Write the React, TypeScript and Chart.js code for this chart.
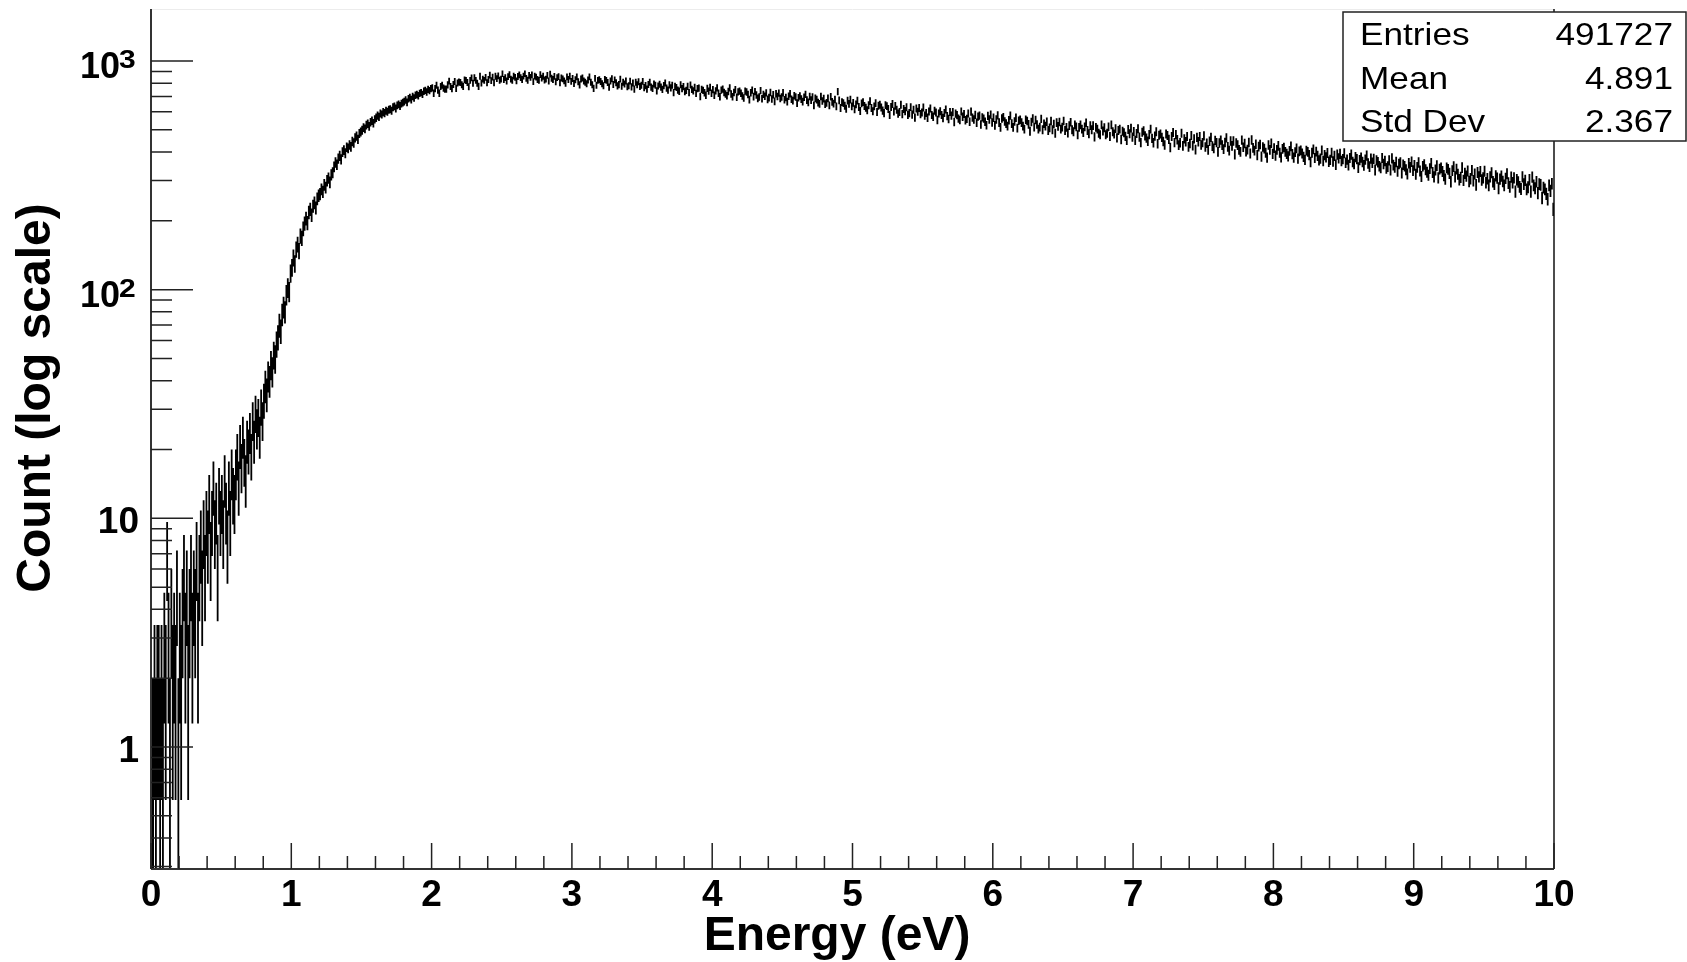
import React, { useEffect, useRef } from "react";
import { Chart, registerables } from "chart.js";

Chart.register(...registerables);

// ---- Histogram: Energy (eV), 1000 bins of 0.01 eV from 0 to 10 ----
const E_MIN = 0;
const BIN_W = 0.01;

const counts0to1 = [
  1, 1, 2, 1, 2, 2, 1, 2, 1, 3,
  2, 7, 3, 1, 4, 2, 3, 2, 5, 1,
  3, 2, 4, 6, 3, 5, 2, 4, 6, 3,
  5, 4, 7, 3, 6, 8, 5, 9, 6, 10,
  8, 12, 7, 10, 14, 9, 11, 6, 13, 10,
  12, 9, 15, 11, 8, 14, 10, 16, 13, 12,
  16, 19, 14, 21, 17, 23, 18, 15, 22, 20,
  24, 19, 27, 22, 29, 25, 28, 23, 31, 27,
  33, 38, 35, 42, 40, 47, 44, 52, 50, 58,
  62, 70, 66, 78, 84, 80, 95, 102, 98, 118,
];
const counts1to2 = [
  125, 138, 130, 150, 158, 148, 172, 168, 185, 195,
  205, 196, 218, 225, 212, 232, 240, 228, 250, 258,
  262, 275, 268, 288, 280, 300, 308, 295, 318, 325,
  345, 360, 352, 375, 385, 372, 400, 408, 395, 420,
  415, 430, 422, 445, 438, 462, 470, 455, 482, 490,
  498, 512, 505, 525, 532, 518, 540, 548, 535, 556,
  565, 578, 570, 590, 584, 598, 592, 606, 600, 612,
  615, 606, 628, 634, 620, 640, 646, 636, 652, 658,
  665, 676, 660, 684, 692, 678, 700, 690, 708, 714,
  705, 722, 728, 715, 738, 745, 732, 752, 742, 758,
];
const counts2to3 = [
  763, 723, 758, 784, 746, 723, 774, 784, 762, 753,
  754, 787, 817, 774, 757, 790, 814, 760, 802, 810,
  805, 788, 775, 827, 822, 806, 772, 823, 844, 799,
  845, 823, 800, 775, 858, 802, 834, 823, 848, 804,
  830, 867, 821, 851, 804, 858, 838, 862, 824, 834,
  880, 830, 846, 818, 855, 873, 834, 824, 859, 849,
  819, 856, 869, 847, 830, 859, 880, 840, 824, 865,
  848, 869, 813, 860, 851, 831, 823, 873, 842, 858,
  826, 834, 865, 818, 876, 841, 830, 857, 812, 847,
  854, 804, 843, 836, 819, 800, 852, 831, 859, 815,
];
const counts3to4 = [
  839, 797, 829, 853, 812, 787, 835, 843, 818, 807,
  795, 826, 853, 808, 788, 760, 840, 784, 823, 829,
  814, 795, 780, 830, 823, 805, 769, 818, 837, 790,
  827, 803, 779, 789, 834, 776, 807, 794, 818, 772,
  780, 817, 771, 801, 754, 808, 788, 812, 774, 784,
  815, 765, 781, 753, 790, 808, 769, 759, 794, 784,
  741, 778, 791, 769, 752, 781, 802, 762, 746, 787,
  763, 784, 728, 775, 766, 746, 738, 788, 757, 773,
  736, 744, 775, 728, 786, 751, 740, 767, 722, 757,
  762, 700, 751, 744, 727, 708, 760, 739, 767, 723,
];
const counts4to5 = [
  750, 708, 740, 764, 723, 698, 746, 754, 729, 718,
  705, 736, 763, 718, 698, 729, 750, 694, 733, 739,
  723, 704, 689, 739, 732, 714, 678, 727, 746, 699,
  735, 711, 687, 697, 742, 684, 715, 702, 726, 680,
  692, 729, 683, 713, 666, 720, 700, 724, 686, 696,
  727, 677, 693, 665, 702, 720, 681, 671, 706, 696,
  654, 691, 704, 682, 665, 694, 715, 675, 659, 700,
  675, 696, 640, 687, 678, 658, 650, 700, 669, 685,
  648, 656, 687, 640, 698, 663, 652, 679, 634, 735,
  673, 623, 662, 655, 638, 619, 671, 650, 678, 634,
];
const counts5to6 = [
  657, 615, 647, 671, 630, 605, 653, 661, 636, 625,
  610, 641, 668, 623, 603, 634, 655, 599, 638, 644,
  626, 607, 592, 642, 635, 617, 581, 630, 649, 602,
  637, 613, 589, 599, 644, 586, 617, 604, 628, 582,
  592, 629, 583, 613, 566, 620, 600, 624, 586, 596,
  627, 577, 593, 565, 602, 620, 581, 571, 606, 596,
  553, 590, 603, 581, 564, 593, 614, 574, 558, 599,
  577, 598, 542, 589, 580, 560, 552, 602, 571, 587,
  551, 559, 590, 543, 601, 566, 555, 582, 537, 572,
  578, 528, 567, 560, 543, 524, 576, 555, 583, 539,
];
const counts6to7 = [
  565, 523, 555, 579, 538, 513, 561, 569, 544, 533,
  520, 551, 578, 533, 513, 544, 565, 509, 548, 554,
  538, 519, 504, 554, 547, 529, 493, 542, 561, 514,
  552, 528, 504, 514, 559, 501, 532, 519, 543, 497,
  510, 547, 501, 531, 484, 538, 518, 542, 504, 514,
  547, 497, 513, 485, 522, 540, 501, 491, 526, 516,
  476, 513, 526, 504, 487, 516, 537, 497, 481, 522,
  501, 522, 466, 513, 504, 484, 476, 526, 495, 511,
  476, 484, 515, 468, 526, 491, 480, 507, 462, 497,
  504, 454, 493, 486, 469, 450, 502, 481, 509, 465,
];
const counts7to8 = [
  492, 450, 482, 506, 465, 440, 488, 496, 471, 460,
  446, 477, 504, 459, 439, 470, 491, 435, 474, 480,
  464, 445, 430, 480, 473, 455, 419, 468, 487, 440,
  477, 453, 429, 439, 484, 426, 457, 444, 468, 422,
  436, 473, 427, 457, 410, 464, 444, 468, 430, 440,
  471, 421, 437, 409, 446, 464, 425, 415, 450, 440,
  401, 438, 451, 429, 412, 441, 462, 422, 406, 447,
  426, 447, 391, 438, 429, 409, 401, 451, 420, 436,
  402, 410, 441, 394, 452, 417, 406, 433, 388, 423,
  432, 382, 421, 414, 397, 378, 430, 409, 437, 393,
];
const counts8to9 = [
  416, 386, 409, 426, 397, 379, 413, 419, 401, 393,
  383, 405, 424, 392, 378, 400, 415, 375, 403, 407,
  394, 381, 370, 406, 401, 388, 362, 397, 411, 377,
  402, 385, 368, 375, 407, 366, 388, 379, 396, 363,
  370, 397, 364, 385, 352, 390, 376, 393, 366, 373,
  395, 359, 371, 351, 377, 390, 362, 355, 380, 373,
  342, 369, 378, 362, 350, 371, 386, 357, 346, 375,
  359, 374, 334, 368, 361, 347, 341, 377, 355, 366,
  340, 346, 368, 334, 376, 351, 343, 362, 330, 355,
  360, 324, 352, 347, 335, 321, 358, 343, 363, 332,
];
const counts9to10 = [
  350, 320, 343, 360, 331, 313, 347, 353, 335, 327,
  317, 339, 358, 326, 312, 334, 349, 309, 337, 341,
  329, 316, 305, 341, 336, 323, 297, 332, 346, 312,
  337, 320, 303, 310, 342, 301, 323, 314, 331, 298,
  306, 333, 300, 321, 288, 326, 312, 329, 302, 309,
  330, 294, 306, 286, 312, 325, 297, 290, 315, 308,
  278, 305, 314, 298, 286, 307, 322, 293, 282, 311,
  294, 309, 269, 303, 296, 282, 276, 312, 290, 301,
  275, 281, 303, 269, 311, 286, 278, 297, 265, 290,
  288, 252, 280, 275, 263, 249, 286, 271, 291, 225,
];

// ---- Axis ticks / labels ----
const xMajorTicks = [0, 1, 2, 3, 4, 5, 6, 7, 8, 9, 10];
const xMinorTicks = [
  0.2, 0.4, 0.6, 0.8, 1.2, 1.4, 1.6, 1.8, 2.2, 2.4, 2.6, 2.8, 3.2, 3.4, 3.6, 3.8,
  4.2, 4.4, 4.6, 4.8, 5.2, 5.4, 5.6, 5.8, 6.2, 6.4, 6.6, 6.8, 7.2, 7.4, 7.6, 7.8,
  8.2, 8.4, 8.6, 8.8, 9.2, 9.4, 9.6, 9.8,
];
const yMajorTicks = [1, 10, 100, 1000];
const yLabelBase = ["1", "10", "10", "10"];
const yLabelExp = ["", "", "2", "3"];
const yMinorTicks = [
  0.3, 0.4, 0.5, 0.6, 0.7, 0.8, 0.9,
  2, 3, 4, 5, 6, 7, 8, 9,
  20, 30, 40, 50, 60, 70, 80, 90,
  200, 300, 400, 500, 600, 700, 800, 900,
];
const Y_MIN = 0.2927;
const Y_MAX = 1688;
const X_MIN = 0;
const X_MAX = 10;

const xTitle = "Energy (eV)";
const yTitle = "Count (log scale)";
const statsLabels = ["Entries", "Mean", "Std Dev"];
const statsValues = ["491727", "4.891", "2.367"];

const FONT = "'Liberation Sans', Arial, Helvetica, sans-serif";

const allCounts = [
  ...counts0to1, ...counts1to2, ...counts2to3, ...counts3to4, ...counts4to5,
  ...counts5to6, ...counts6to7, ...counts7to8, ...counts8to9, ...counts9to10,
];

const points = allCounts
  .map((c, i) => ({ x: E_MIN + (i + 0.5) * BIN_W, y: c }))
  .filter((p) => p.y > 0);

function stretchedText(ctx: CanvasRenderingContext2D, text: string, x: number, y: number, sx: number) {
  ctx.save();
  ctx.translate(x, y);
  ctx.scale(sx, 1);
  ctx.fillText(text, 0, 0);
  ctx.restore();
}

const rootStylePlugin = {
  id: "rootFrame",
  afterDatasetsDraw(chart: any) {
    const { ctx, chartArea, scales } = chart;
    const xs = scales.x;
    const ys = scales.y;
    const { left, right, top, bottom } = chartArea;

    // histogram error bars + bin-width markers
    ctx.save();
    ctx.beginPath();
    ctx.rect(left, top, right - left, bottom - top);
    ctx.clip();
    ctx.strokeStyle = "#000";
    ctx.lineWidth = 1.8;
    ctx.beginPath();
    const data = chart.data.datasets[0].data as { x: number; y: number }[];
    for (const p of data) {
      const err = Math.sqrt(p.y);
      const px = xs.getPixelForValue(p.x);
      const x0 = xs.getPixelForValue(p.x - BIN_W / 2);
      const x1 = xs.getPixelForValue(p.x + BIN_W / 2);
      const py = ys.getPixelForValue(p.y);
      const hi = ys.getPixelForValue(p.y + err);
      const loV = p.y - err;
      const lo = loV > 0 ? ys.getPixelForValue(loV) : bottom + 2;
      ctx.moveTo(px, hi);
      ctx.lineTo(px, lo);
      ctx.moveTo(x0, py);
      ctx.lineTo(x1, py);
    }
    ctx.stroke();
    ctx.restore();
  },
  afterDraw(chart: any) {
    const { ctx, chartArea, scales } = chart;
    const xs = scales.x;
    const ys = scales.y;
    const { left, right, top, bottom } = chartArea;
    ctx.save();

    // frame
    ctx.strokeStyle = "#ececec";
    ctx.lineWidth = 1;
    ctx.beginPath();
    ctx.moveTo(left, top + 0.5);
    ctx.lineTo(right, top + 0.5);
    ctx.stroke();

    ctx.strokeStyle = "#111";
    ctx.lineWidth = 1.5;
    ctx.beginPath();
    ctx.moveTo(right, top);
    ctx.lineTo(right, bottom);
    ctx.stroke();

    ctx.strokeStyle = "#333";
    ctx.lineWidth = 2;
    ctx.beginPath();
    ctx.moveTo(left, top);
    ctx.lineTo(left, bottom);
    ctx.moveTo(left, bottom);
    ctx.lineTo(right, bottom);
    ctx.stroke();

    // ticks (drawn inward like ROOT)
    ctx.strokeStyle = "#222";
    ctx.lineWidth = 1.5;
    ctx.beginPath();
    for (const v of xMajorTicks) {
      const px = xs.getPixelForValue(v);
      ctx.moveTo(px, bottom);
      ctx.lineTo(px, bottom - 26);
    }
    for (const v of xMinorTicks) {
      const px = xs.getPixelForValue(v);
      ctx.moveTo(px, bottom);
      ctx.lineTo(px, bottom - 13);
    }
    for (const v of yMajorTicks) {
      const py = ys.getPixelForValue(v);
      ctx.moveTo(left, py);
      ctx.lineTo(left + 42, py);
    }
    for (const v of yMinorTicks) {
      const py = ys.getPixelForValue(v);
      ctx.moveTo(left, py);
      ctx.lineTo(left + 21, py);
    }
    ctx.stroke();

    // y tick labels (with superscript exponents)
    ctx.fillStyle = "#000";
    ctx.textBaseline = "alphabetic";
    yMajorTicks.forEach((v, i) => {
      const py = ys.getPixelForValue(v);
      if (yLabelExp[i]) {
        ctx.font = `bold 36px ${FONT}`;
        ctx.textAlign = "right";
        ctx.fillText(yLabelBase[i], 120, py + 17);
        ctx.font = `bold 25px ${FONT}`;
        ctx.textAlign = "left";
        stretchedText(ctx, yLabelExp[i], 119, py + 7, 1.2);
      } else {
        ctx.font = `bold 37px ${FONT}`;
        ctx.textAlign = "right";
        ctx.fillText(yLabelBase[i], 139, py + 15);
      }
    });

    // axis titles
    ctx.font = `bold 48px ${FONT}`;
    ctx.textAlign = "center";
    ctx.textBaseline = "alphabetic";
    ctx.fillText(xTitle, 837, 950);

    ctx.save();
    ctx.translate(50, 398);
    ctx.rotate(-Math.PI / 2);
    ctx.fillText(yTitle, 0, 0);
    ctx.restore();

    // stats box
    const bx = 1343, by = 12, bw = 1686 - 1343, bh = 141 - 12;
    ctx.fillStyle = "#fff";
    ctx.fillRect(bx, by, bw, bh);
    ctx.strokeStyle = "#222";
    ctx.lineWidth = 1.5;
    ctx.strokeRect(bx, by, bw, bh);
    ctx.fillStyle = "#000";
    ctx.font = `32px ${FONT}`;
    const baselines = [45, 89, 132];
    statsLabels.forEach((lab, i) => {
      ctx.textAlign = "left";
      stretchedText(ctx, lab, 1360, baselines[i], 1.1);
      ctx.textAlign = "right";
      stretchedText(ctx, statsValues[i], 1673, baselines[i], 1.1);
    });

    ctx.restore();
  },
};

export default function App() {
  const canvasRef = useRef<HTMLCanvasElement | null>(null);

  useEffect(() => {
    if (!canvasRef.current) return;
    const chart = new Chart(canvasRef.current, {
      type: "scatter",
      data: {
        datasets: [
          {
            data: points,
            pointRadius: 0,
            pointHoverRadius: 0,
            showLine: false,
            borderColor: "#000",
            backgroundColor: "#000",
          },
        ],
      },
      options: {
        responsive: false,
        animation: false,
        events: [],
        layout: { padding: { top: 9, right: 133, left: 0, bottom: 0 } },
        plugins: {
          legend: { display: false },
          tooltip: { enabled: false },
          title: { display: false },
        },
        scales: {
          x: {
            type: "linear",
            position: "bottom",
            min: X_MIN,
            max: X_MAX,
            bounds: "data",
            afterBuildTicks: (s: any) => {
              s.ticks = xMajorTicks.map((v) => ({ value: v }));
            },
            afterFit: (s: any) => {
              s.height = 93;
              s.paddingLeft = 0;
              s.paddingRight = 0;
            },
            grid: { display: false, drawTicks: false },
            border: { display: false },
            ticks: {
              autoSkip: false,
              maxRotation: 0,
              padding: 5,
              color: "#000",
              font: { family: FONT, weight: "bold", size: 37 },
              callback: (v: any) => String(v),
            },
          },
          y: {
            type: "logarithmic",
            position: "left",
            min: Y_MIN,
            max: Y_MAX,
            bounds: "data",
            afterBuildTicks: (s: any) => {
              s.ticks = yMajorTicks.map((v) => ({ value: v }));
            },
            afterFit: (s: any) => {
              s.width = 151;
              s.paddingTop = 0;
              s.paddingBottom = 0;
            },
            grid: { display: false, drawTicks: false },
            border: { display: false },
            ticks: { display: false },
          },
        },
      },
      plugins: [rootStylePlugin],
    });
    return () => chart.destroy();
  }, []);

  return (
    <div
      style={{
        position: "fixed",
        left: 0,
        top: 0,
        width: 1687,
        height: 962,
        background: "#fff",
      }}
    >
      <canvas ref={canvasRef} width={1687} height={962} style={{ display: "block" }} />
    </div>
  );
}
